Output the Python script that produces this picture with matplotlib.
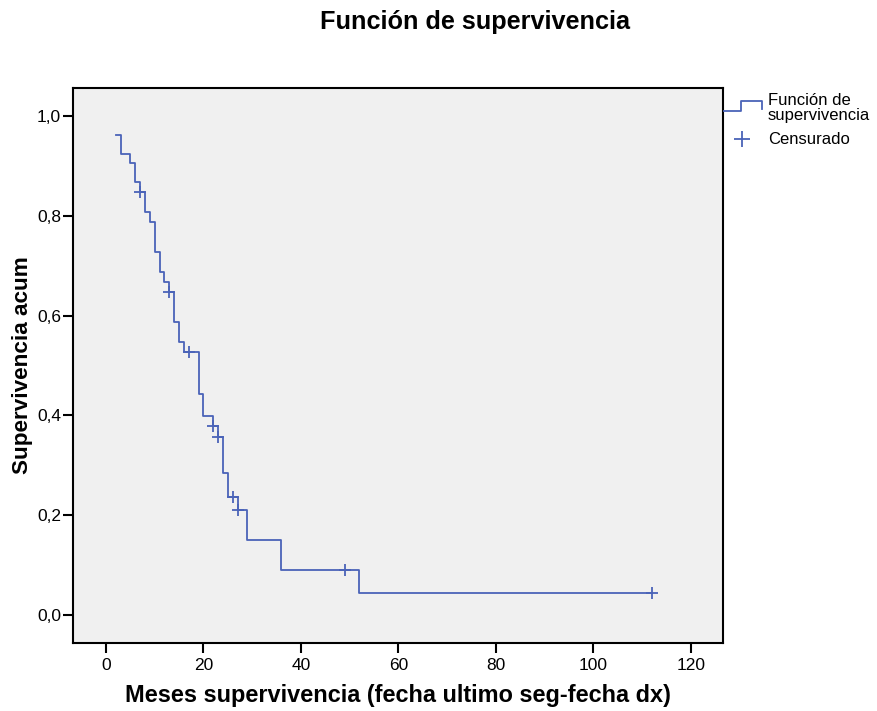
import matplotlib
matplotlib.use("Agg")
import matplotlib.pyplot as plt
from matplotlib.lines import Line2D

plt.rcParams['font.family'] = ['Liberation Sans', 'DejaVu Sans']

# Kaplan-Meier steps
step_times = [2, 3, 5, 6, 7, 8, 9, 10, 11, 12, 13, 14, 15,
              16, 19, 20, 22, 23, 24, 25, 27, 29, 36, 52]
surv_levels = [0.962, 0.924, 0.906, 0.868, 0.848, 0.808, 0.788, 0.727, 0.687, 0.667,
               0.647, 0.587, 0.547, 0.527, 0.443, 0.399, 0.379, 0.357, 0.285, 0.237,
               0.210, 0.150, 0.090, 0.044]
end_time = 112
censor_times = [7, 13, 17, 22, 23, 26, 27, 49, 112]
censor_levels = [0.848, 0.647, 0.527, 0.379, 0.357, 0.237, 0.210, 0.090, 0.044]

title = "Función de supervivencia"
xlabel = "Meses supervivencia (fecha ultimo seg-fecha dx)"
ylabel = "Supervivencia acum"
legend_labels = ["Función de\nsupervivencia", "Censurado"]
xticks = [0, 20, 40, 60, 80, 100, 120]
yticks = [0.0, 0.2, 0.4, 0.6, 0.8, 1.0]
ytick_labels = ["0,0", "0,2", "0,4", "0,6", "0,8", "1,0"]

color = "#4a63b8"

fig = plt.figure(figsize=(8.78, 7.11), dpi=100)
W, H = 878, 711
L, R, T, B = 73, 723, 88, 643
ax = fig.add_axes([L / W, 1 - B / H, (R - L) / W, (B - T) / H])
ax.set_facecolor("#f0f0f0")

xs = step_times + [end_time]
ys = surv_levels + [surv_levels[-1]]
ax.step(xs, ys, where="post", color=color, lw=1.3)
ax.plot(censor_times, censor_levels, linestyle="none", marker="+", ms=8,
        mew=1.3, color=color)

# pixel mapping: x=0 at 106 px, 120 at 691 px; y=0 at 615 px, 1 at 116 px
xs_px = (691 - 106) / 120.0
ys_px = (615 - 116) / 1.0
ax.set_xlim((L - 106) / xs_px, (R - 106) / xs_px)
ax.set_ylim((615 - B) / ys_px, (615 - T) / ys_px)
ax.set_xticks(xticks)
ax.set_xticklabels([str(t) for t in xticks])
ax.set_yticks(yticks)
ax.set_yticklabels(ytick_labels)
ax.tick_params(direction="out", length=7.5, width=1.5, labelsize=12.5, colors="black")
ax.tick_params(axis="y", pad=1)
ax.tick_params(axis="x", pad=3)
for s in ax.spines.values():
    s.set_linewidth(1.5)
    s.set_color("black")

ax.set_xlabel(xlabel, fontsize=16.9, fontweight="bold", labelpad=8)
ax.set_ylabel(ylabel, fontsize=16.2, fontweight="bold", labelpad=3)
fig.text(475 / W, 1 - 22 / H, title, fontsize=18.2, fontweight="bold",
         ha="center", va="center")

# legend outside the plot (right side)
def fx(px):
    return px / W
def fy(py):
    return 1 - py / H
fig.add_artist(Line2D([fx(724), fx(741), fx(741), fx(762), fx(762)],
                      [fy(111), fy(111), fy(101), fy(101), fy(109)],
                      transform=fig.transFigure, color=color, lw=1.3))
fig.add_artist(Line2D([fx(742)], [fy(139)], transform=fig.transFigure,
                      marker="+", ms=11, mew=1.3, color=color, linestyle="none"))
fig.text(fx(768), fy(108), legend_labels[0], fontsize=12, ha="left", va="center",
         linespacing=0.95)
fig.text(fx(768), fy(139), legend_labels[1], fontsize=12, ha="left", va="center")

fig.savefig("out.png", dpi=100)
